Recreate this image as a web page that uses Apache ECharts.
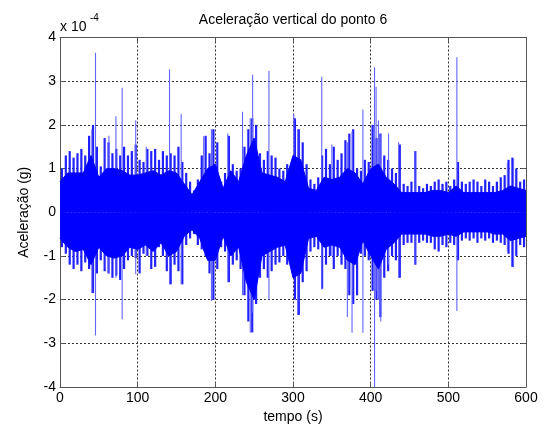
<!DOCTYPE html>
<html><head><meta charset="utf-8">
<script src="https://cdn.jsdelivr.net/npm/echarts@6/dist/echarts.min.js"></script>
<style>html,body{margin:0;padding:0;background:#fff}#c{width:545px;height:430px}</style>
</head><body><div id="c"></div>
<script>
// Values in units of 1e-4 g
const chartTitle = 'Aceleração vertical do ponto 6';
const xName = 'tempo (s)';
const yName = 'Aceleração (g)';
const xTicks = [0, 100, 200, 300, 400, 500, 600];
const yTicks = [-4, -3, -2, -1, 0, 1, 2, 3, 4];

// outer (fringe) envelope, 5 s bins starting at 0 s
const fringeStep = 5;
const fringeHi = [
 1.0,1.3,1.4,1.25,1.35,1.45,1.3,1.75,2.0,1.5,
 1.05,1.7,1.6,1.35,1.45,1.3,1.5,1.3,1.4,1.55,
 1.2,1.15,1.45,1.4,1.45,1.2,1.4,1.3,1.35,1.3,
 1.5,1.15,0.9,0.7,0.5,0.75,1.3,1.75,1.35,1.9,
 1.6,0.7,0.9,1.75,1.1,0.95,1.0,1.5,1.9,2.15,
 2.0,1.35,1.2,1.4,1.3,1.25,1.0,0.95,1.1,1.0,
 2.15,1.9,1.6,1.1,0.75,0.65,0.8,1.3,1.45,1.1,
 1.5,1.2,1.35,1.65,1.8,1.9,1.0,0.95,1.2,1.15,
 2.0,1.7,1.8,1.3,1.2,1.0,0.9,1.55,0.65,0.6,
 0.7,1.4,0.6,0.55,0.65,0.6,0.7,0.75,0.65,0.7,
 0.6,0.75,1.15,0.7,0.65,0.7,0.75,0.7,0.6,0.75,
 0.7,0.6,0.7,0.8,0.85,1.2,1.25,1.0,0.7,0.75];
const fringeLo = [
 -0.8,-0.95,-1.2,-1.3,-1.2,-1.35,-1.15,-1.3,-1.85,-1.4,
 -1.1,-1.35,-1.4,-1.5,-1.45,-1.55,-1.3,-1.1,-1.0,-1.05,
 -1.4,-0.95,-1.0,-1.3,-1.25,-0.8,-1.0,-1.35,-1.65,-1.2,
 -1.35,-1.65,-0.75,-0.6,-0.5,-0.75,-0.85,-1.0,-1.4,-2.0,
 -1.3,-0.8,-0.9,-1.6,-1.2,-1.1,-1.3,-1.9,-2.5,-2.75,
 -2.1,-1.5,-1.3,-1.5,-1.35,-1.2,-1.15,-1.0,-1.2,-1.0,
 -2.0,-2.35,-1.6,-1.35,-0.9,-0.8,-0.85,-1.75,-1.2,-1.0,
 -1.3,-1.0,-1.2,-1.3,-1.9,-2.1,-1.9,-0.95,-1.0,-1.1,
 -1.8,-2.0,-2.4,-1.5,-1.35,-1.0,-1.1,-1.5,-0.75,-0.7,
 -0.7,-1.2,-0.7,-0.65,-0.7,-0.7,-0.85,-0.9,-0.75,-0.8,
 -0.7,-0.75,-1.1,-0.65,-0.6,-0.65,-0.6,-0.7,-0.6,-0.65,
 -0.6,-0.7,-0.65,-0.7,-0.75,-0.95,-1.25,-1.0,-0.75,-0.8];

// dense core envelope, every 10 s from 0 to 600
const coreStep = 10;
const coreHi = [0.7,0.9,0.9,0.9,1.3,0.8,1.0,1.0,0.95,0.85,
 0.85,0.9,0.95,0.85,0.95,0.9,0.65,0.4,0.7,1.0,
 1.1,0.55,0.95,0.7,1.3,1.7,0.9,0.85,0.8,0.7,
 1.3,1.2,0.55,0.5,0.8,0.75,0.8,1.0,0.9,0.65,
 1.0,1.1,0.8,0.65,0.45,0.45,0.45,0.45,0.5,0.5,
 0.45,0.6,0.45,0.45,0.45,0.45,0.45,0.5,0.6,0.55,0.5];
const coreLo = [-0.6,-0.8,-0.9,-0.85,-1.2,-0.8,-1.0,-1.05,-1.0,-0.8,
 -0.85,-0.75,-0.9,-0.7,-1.0,-0.9,-0.55,-0.4,-0.6,-1.1,
 -1.1,-0.55,-1.0,-0.8,-1.6,-2.0,-1.0,-0.9,-0.8,-0.75,
 -1.5,-1.4,-0.6,-0.55,-0.8,-0.75,-0.8,-1.1,-1.2,-0.65,
 -1.0,-1.3,-0.85,-0.7,-0.5,-0.5,-0.5,-0.5,-0.55,-0.55,
 -0.5,-0.55,-0.45,-0.45,-0.45,-0.45,-0.5,-0.5,-0.65,-0.6,-0.55];

// isolated spikes
const spikeT  = [41,45.7,58.5,63,72,80,97.5,111,141,156,185,195,216,235,245,248,269,301,306,337,350,370,376,390,405,407,410,413,423,436,457,511,576,584];
const spikeHi = [1.9,3.65,1.7,1.75,2.2,2.85,2.1,1.5,3.27,2.25,1.74,1.9,1.8,2.3,2.15,3.15,3.24,2.25,1.9,3.1,1.55,1.6,1.85,2.35,3.32,2.87,2.1,1.8,1.8,1.6,1.4,3.55,1.13,1.22];
const spikeLo = [-1.85,-2.82,-1.3,-1.4,-1.5,-2.45,-1.42,-1.0,-1.65,-1.65,-0.9,-2.03,-1.6,-1.9,-2.76,-2.3,-2.0,-1.5,-2.35,-1.77,-1.0,-2.4,-2.76,-2.76,-4.0,-1.8,-2.0,-2.5,-1.2,-1.5,-1.2,-2.26,-0.9,-1.26];

const fringeData = fringeHi.map((h, i) => [fringeStep * i + fringeStep / 2, fringeLo[i], h]);
const spikeData = spikeT.map((t, i) => [t, spikeLo[i], spikeHi[i]]);
const coreHiData = coreHi.map((v, i) => [coreStep * i, v]);
const coreLoData = coreLo.map((v, i) => [coreStep * i, v]);

function vline(color, width) {
  return function (params, api) {
    const t = api.value(0);
    const p1 = api.coord([t, api.value(2)]);
    const p2 = api.coord([t, api.value(1)]);
    return { type: 'line', shape: { x1: p1[0], y1: p1[1], x2: p2[0], y2: p2[1] },
      style: { stroke: color, lineWidth: width } };
  };
}

const FONT = 'Arial, "Liberation Sans", Helvetica, sans-serif';
const axisCol = '#555';
const gridL = 60, gridR = 19, gridT = 37.5, gridB = 43;

const chart = echarts.init(document.getElementById('c'), null, { renderer: 'canvas' });
chart.setOption({
  animation: false,
  backgroundColor: '#fff',
  grid: { left: gridL, right: gridR, top: gridT, bottom: gridB, containLabel: false },
  graphic: [
    { type: 'text', x: gridL + (545 - gridL - gridR) / 2, y: 20,
      style: { text: chartTitle, font: '14px ' + FONT, fill: '#000', textAlign: 'center', textVerticalAlign: 'middle' } },
    { type: 'text', x: 60, y: 27,
      style: { text: 'x 10', font: '14px ' + FONT, fill: '#000', textAlign: 'left', textVerticalAlign: 'middle' } },
    { type: 'text', x: 90, y: 18,
      style: { text: '-4', font: '10px ' + FONT, fill: '#000', textAlign: 'left', textVerticalAlign: 'middle' } }
  ],
  xAxis: [
    { type: 'value', min: xTicks[0], max: xTicks[xTicks.length - 1], interval: 100, position: 'bottom',
      name: xName, nameLocation: 'middle', nameGap: 20,
      nameTextStyle: { fontSize: 14, fontFamily: FONT, color: '#000' },
      axisLine: { show: true, onZero: false, lineStyle: { color: axisCol, width: 1 } },
      axisTick: { show: true, inside: true, length: 5, lineStyle: { color: axisCol } },
      axisLabel: { color: '#000', fontSize: 14, fontFamily: FONT, margin: 4 },
      splitLine: { show: true, lineStyle: { color: '#333', type: [2, 2], width: 1 } } },
    { type: 'value', min: xTicks[0], max: xTicks[xTicks.length - 1], interval: 100, position: 'top',
      axisLine: { show: true, onZero: false, lineStyle: { color: axisCol, width: 1 } },
      axisTick: { show: true, inside: true, length: 5, lineStyle: { color: axisCol } },
      axisLabel: { show: false }, splitLine: { show: false } }
  ],
  yAxis: [
    { type: 'value', min: yTicks[0], max: yTicks[yTicks.length - 1], interval: 1, position: 'left',
      name: yName, nameLocation: 'middle', nameGap: 29, nameRotate: 90,
      nameTextStyle: { fontSize: 14, fontFamily: FONT, color: '#000' },
      axisLine: { show: true, onZero: false, lineStyle: { color: axisCol, width: 1 } },
      axisTick: { show: true, inside: true, length: 5, lineStyle: { color: axisCol } },
      axisLabel: { color: '#000', fontSize: 14, fontFamily: FONT, margin: 4 },
      splitLine: { show: true, lineStyle: { color: '#333', type: [2, 2], width: 1 } } },
    { type: 'value', min: yTicks[0], max: yTicks[yTicks.length - 1], interval: 1, position: 'right',
      axisLine: { show: true, onZero: false, lineStyle: { color: axisCol, width: 1 } },
      axisTick: { show: true, inside: true, length: 5, lineStyle: { color: axisCol } },
      axisLabel: { show: false }, splitLine: { show: false } }
  ],
  series: [
    { type: 'custom', name: 'fringe', data: fringeData, renderItem: vline('#2020ff', 2.2),
      encode: { x: 0, y: [1, 2] }, z: 2 },
    { type: 'custom', name: 'spikes', data: spikeData, renderItem: vline('#6464ff', 1.1),
      encode: { x: 0, y: [1, 2] }, z: 3 },
    { type: 'line', name: 'coreHi', data: coreHiData, showSymbol: false, symbol: 'none',
      lineStyle: { color: '#0000ff', width: 1 }, areaStyle: { color: '#0000ff', opacity: 1 }, z: 4 },
    { type: 'line', name: 'coreLo', data: coreLoData, showSymbol: false, symbol: 'none',
      lineStyle: { color: '#0000ff', width: 1 }, areaStyle: { color: '#0000ff', opacity: 1 }, z: 4 }
  ]
});
</script>
</body></html>
